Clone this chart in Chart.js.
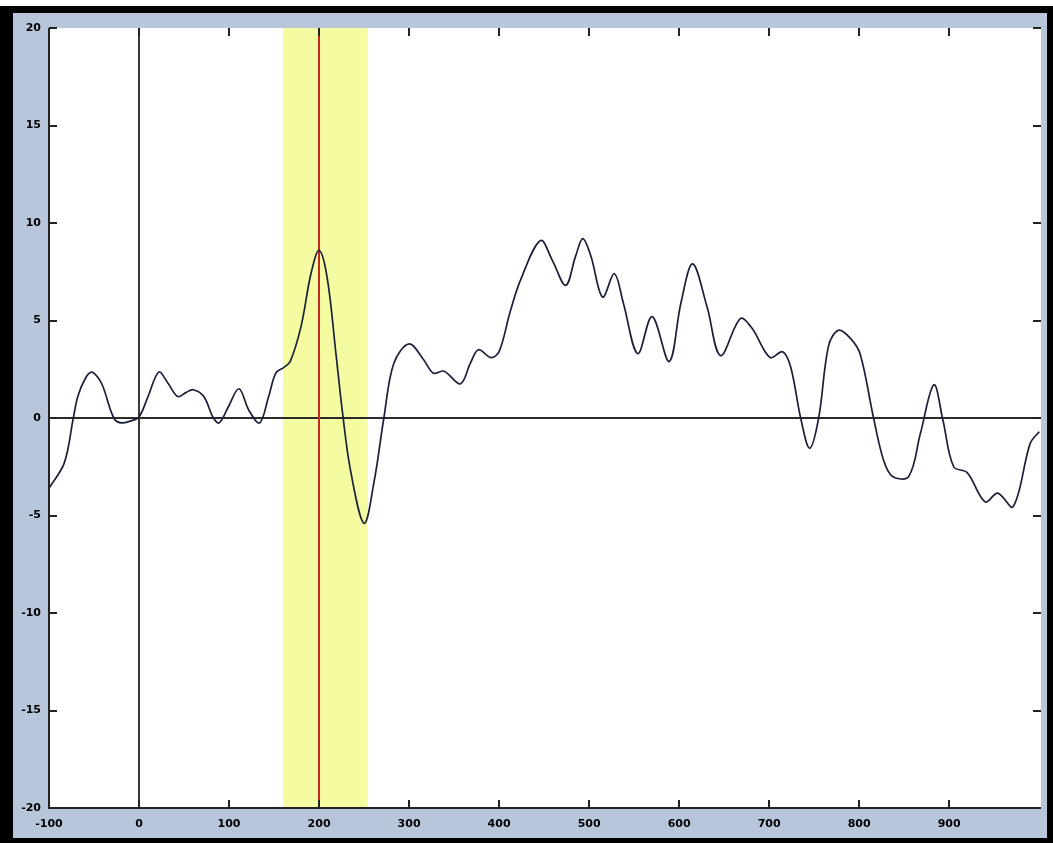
<!DOCTYPE html>
<html>
<head>
<meta charset="utf-8">
<script src="https://cdn.jsdelivr.net/npm/chart.js@4/dist/chart.umd.min.js"></script>
<style>
  html, body { margin: 0; padding: 0; background: #ffffff; }
  #frame {
    position: absolute; left: 0; top: 6px;
    width: 1053px; height: 837px; box-sizing: border-box;
    border-style: solid; border-color: #000;
    border-width: 7px 6px 5px 13px;
    background: #b7c6da;
  }
  #chart { display: block; }
</style>
</head>
<body>
<div id="frame"><canvas id="chart" width="1034" height="825"></canvas></div>
<script>
// time axis (ms) and amplitude
var times = [-100, -83, -73, -68, -60, -53, -46, -40, -28, -20, -9, 0, 10, 22, 32, 43, 52, 60, 72, 82,
	89, 99, 111, 122, 134, 144, 152, 161, 168, 180, 191, 200, 209, 219, 226, 235, 250, 261, 272, 283,
	300, 316, 327, 339, 357, 368, 377, 391, 400, 412, 424, 446, 459, 474, 485, 493, 502, 515, 528, 538,
	554, 570, 589, 602, 615, 631, 646, 668, 681, 701, 715, 724, 735, 745, 755, 766, 777, 790, 801, 816,
	827, 837, 855, 868, 883, 893, 905, 920, 940, 954, 971, 990, 1000];
var amplitude = [-3.6, -2.3, 0, 1.1, 2.0, 2.35, 2.1, 1.6, 0, -0.25, -0.15, 0.05, 1.1, 2.35, 1.8, 1.1, 1.3, 1.45, 1.1, 0.05,
	-0.25, 0.55, 1.5, 0.4, -0.25, 1.1, 2.3, 2.6, 2.9, 4.7, 7.4, 8.6, 7.2, 3.2, 0.3, -2.7, -5.4, -3.3, 0, 2.8,
	3.8, 3.0, 2.3, 2.4, 1.75, 2.8, 3.5, 3.1, 3.4, 5.4, 7.1, 9.1, 8.1, 6.8, 8.3, 9.2, 8.3, 6.2, 7.4, 5.9,
	3.3, 5.2, 2.9, 5.9, 7.9, 5.7, 3.2, 5.1, 4.6, 3.1, 3.4, 2.6, 0, -1.55, 0, 3.7, 4.5, 4.1, 3.3, 0,
	-2.15, -3.0, -3.0, -0.8, 1.7, -0.1, -2.5, -2.8, -4.3, -3.85, -4.55, -1.3, -0.7];

var xTicks = [-100, 0, 100, 200, 300, 400, 500, 600, 700, 800, 900];
var yTicks = [-20, -15, -10, -5, 0, 5, 10, 15, 20];

// highlighted window and marker
var bandStart = 160;
var bandEnd = 254;
var markerTime = 200;

var points = times.map((t, i) => ({ x: t, y: amplitude[i] }));

//______ background marks: white plot, window, marker, zero lines

var backdrop = {
	id: 'backdrop',
	beforeDatasetsDraw(chart) {
		var ctx = chart.ctx;
		var a = chart.chartArea;
		var x = chart.scales.x;
		var y = chart.scales.y;
		ctx.save();

		ctx.fillStyle = '#ffffff';
		ctx.fillRect(a.left, a.top, a.right - a.left, a.bottom - a.top);

		var x1 = x.getPixelForValue(bandStart);
		var x2 = x.getPixelForValue(bandEnd);
		ctx.fillStyle = '#f4fba0';
		ctx.fillRect(x1, a.top, x2 - x1, a.bottom - a.top);

		ctx.lineWidth = 2;
		ctx.strokeStyle = '#2a2a2a';
		var y0 = Math.round(y.getPixelForValue(0));
		ctx.beginPath();
		ctx.moveTo(a.left, y0);
		ctx.lineTo(a.right, y0);
		ctx.stroke();

		var x0 = Math.round(x.getPixelForValue(0));
		ctx.strokeStyle = '#3a3a3a';
		ctx.beginPath();
		ctx.moveTo(x0, a.top);
		ctx.lineTo(x0, a.bottom);
		ctx.stroke();

		var xm = Math.round(x.getPixelForValue(markerTime));
		ctx.strokeStyle = '#c3291f';
		ctx.beginPath();
		ctx.moveTo(xm, a.top);
		ctx.lineTo(xm, a.bottom);
		ctx.stroke();

		ctx.restore();
	}
};

//______ matlab style box: inward ticks on every side

var boxTicks = {
	id: 'boxTicks',
	afterDraw(chart) {
		var ctx = chart.ctx;
		var a = chart.chartArea;
		var x = chart.scales.x;
		var y = chart.scales.y;
		ctx.save();
		ctx.strokeStyle = '#222';
		ctx.lineWidth = 2;

		ctx.beginPath();
		ctx.moveTo(a.left, a.top);
		ctx.lineTo(a.left, a.bottom);
		ctx.lineTo(a.right, a.bottom);
		ctx.stroke();

		xTicks.forEach(v => {
			var px = Math.round(x.getPixelForValue(v));
			ctx.beginPath();
			ctx.moveTo(px, a.bottom);
			ctx.lineTo(px, a.bottom - 8);
			ctx.moveTo(px, a.top);
			ctx.lineTo(px, a.top + 8);
			ctx.stroke();
		});
		yTicks.forEach(v => {
			var py = Math.round(y.getPixelForValue(v));
			ctx.beginPath();
			ctx.moveTo(a.left, py);
			ctx.lineTo(a.left + 8, py);
			ctx.moveTo(a.right, py);
			ctx.lineTo(a.right - 8, py);
			ctx.stroke();
		});
		ctx.restore();
	}
};

var tickFont = { family: '"DejaVu Sans"', size: 11, weight: 'bold' };

var ctx = document.getElementById('chart');

var myChart = new Chart(ctx, {
	type: 'line',
	data: {
		datasets: [
			{
				data: points,
				borderColor: '#1b2038',
				borderWidth: 1.7,
				pointRadius: 0,
				fill: false,
				tension: 0.35
			}
		]
	},
	options: {
		responsive: false,
		animation: false,
		layout: { padding: { top: 15, right: 6, left: 0, bottom: 0 } },
		plugins: {
			legend: { display: false },
			tooltip: { enabled: false }
		},
		scales: {
			x: {
				type: 'linear',
				min: -100,
				max: 1002,
				afterBuildTicks: scale => { scale.ticks = xTicks.map(v => ({ value: v })); },
				afterFit: scale => { scale.height = 30; },
				grid: { display: false, drawTicks: false },
				border: { display: false },
				ticks: { color: '#000', font: tickFont, padding: 10, maxRotation: 0, autoSkip: false }
			},
			y: {
				min: -20,
				max: 20,
				afterBuildTicks: scale => { scale.ticks = yTicks.map(v => ({ value: v })); },
				afterFit: scale => { scale.width = 36; },
				grid: { display: false, drawTicks: false },
				border: { display: false },
				ticks: { color: '#000', font: tickFont, padding: 8, autoSkip: false }
			}
		}
	},
	plugins: [backdrop, boxTicks]
});
</script>
</body>
</html>
